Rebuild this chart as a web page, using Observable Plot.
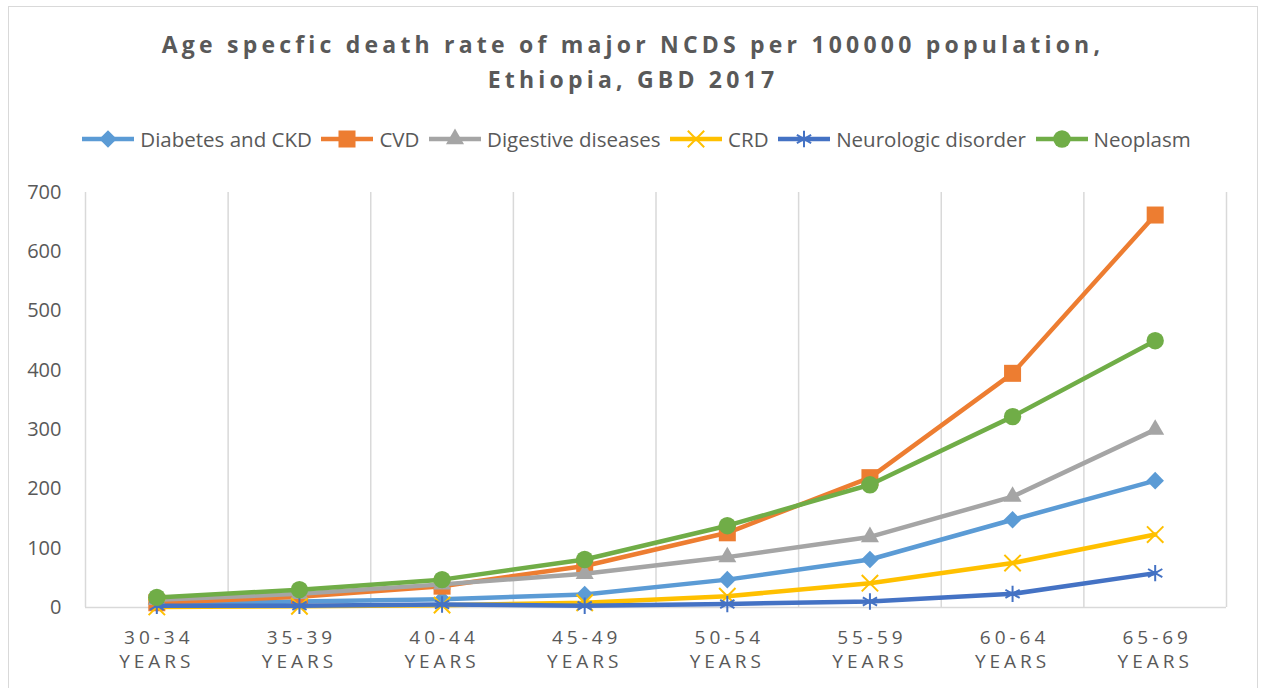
<!DOCTYPE html>
<html>
<head>
<meta charset="utf-8">
<script src="https://cdn.jsdelivr.net/npm/d3@7"></script>
<script src="https://cdn.jsdelivr.net/npm/@observablehq/plot@0.6"></script>
<style>
html, body { margin: 0; padding: 0; background: #fff; }
#wrap { position: relative; width: 1262px; height: 688px; overflow: hidden; font-family: "Open Sans", sans-serif; color: #595959; background: #fff; }
#frame { position: absolute; left: 8px; top: 6px; width: 1250px; height: 720px; border: 1.5px solid #d9d9d9; box-sizing: border-box; }
.tline { position: absolute; left: 2px; width: 1262px; text-align: center; font-weight: 700; font-size: 23px; line-height: 35px; letter-spacing: 4.2px; white-space: nowrap; }
#legend { position: absolute; left: 0; top: 127px; width: 1273px; height: 24px; display: flex; justify-content: center; align-items: center; font-size: 20.5px; white-space: nowrap; }
.item { display: flex; align-items: center; margin: 0 4.8px; }
.item svg { margin-right: 6px; }
#chart { position: absolute; left: 0; top: 165px; }
</style>
</head>
<body>
<div id="wrap">
  <div id="frame"></div>
  <div class="tline" style="top:27px">Age specfic death rate of major NCDS per 100000 population,</div>
  <div class="tline" style="top:62px">Ethiopia, GBD 2017</div>
  <div id="legend"></div>
  <div id="chart"></div>
</div>
<script>
// ---- Data ----
const ageGroups = ["30-34", "35-39", "40-44", "45-49", "50-54", "55-59", "60-64", "65-69"];
const ageUnit = "YEARS";
const seriesNames = ["Diabetes and CKD", "CVD", "Digestive diseases", "CRD", "Neurologic disorder", "Neoplasm"];
const diabetesCKD = [7, 10, 14, 22, 47, 81, 148, 214];
const cvd = [8, 18, 36, 70, 126, 219, 395, 662];
const digestive = [13, 23, 39, 57, 85, 119, 187, 300];
const crd = [1, 2, 4, 8, 19, 41, 75, 123];
const neurologic = [3, 3, 5, 3, 6, 10, 23, 58];
const neoplasm = [17, 30, 47, 81, 138, 207, 322, 450];
const yTicks = [0, 100, 200, 300, 400, 500, 600, 700];

// ---- Styling ----
const seriesValues = [diabetesCKD, cvd, digestive, crd, neurologic, neoplasm];
const colors = ["#5B9BD5", "#ED7D31", "#A5A5A5", "#FFC000", "#4472C4", "#70AD47"];
const symbols = ["diamond2", "square", "triangle", "times", "asterisk", "circle"];
const d3symbols = [d3.symbolDiamond2, d3.symbolSquare, d3.symbolTriangle, d3.symbolTimes, d3.symbolAsterisk, d3.symbolCircle];
const radii = [7.9, 9.6, 6.7, 7.5, 7.8, 8.7];
const filled = [true, true, true, false, false, true];

const series = seriesNames.map((name, k) => ({
  name, values: seriesValues[k], color: colors[k], symbol: symbols[k], r: radii[k], filled: filled[k]
}));

// ---- Legend ----
const legend = d3.select("#legend");
series.forEach((s, k) => {
  const item = legend.append("div").attr("class", "item");
  const svg = item.append("svg").attr("width", 52).attr("height", 22);
  svg.append("line").attr("x1", 0).attr("x2", 52).attr("y1", 11).attr("y2", 11)
    .attr("stroke", s.color).attr("stroke-width", 4.5);
  svg.append("path")
    .attr("transform", "translate(26,11)")
    .attr("d", d3.symbol(d3symbols[k], Math.PI * s.r * s.r)())
    .attr("fill", s.filled ? s.color : "none")
    .attr("stroke", s.filled ? "none" : s.color)
    .attr("stroke-width", s.filled ? 0 : 2);
  item.append("span").text(s.name);
});

// ---- Chart ----
const idx = ageGroups.map((d, i) => i);
const gridPositions = [...idx.map(i => i - 0.5), ageGroups.length - 0.5];

const marks = [
  Plot.ruleX(gridPositions, {x: d => d, stroke: "#d9d9d9", strokeWidth: 1.5}),
  Plot.ruleY([0], {stroke: "#d9d9d9", strokeWidth: 1.5}),
  Plot.axisY({ticks: yTicks, tickSize: 0, tickPadding: 24, fontSize: 20, label: null, fill: "#595959"}),
  Plot.axisX({ticks: idx, tickFormat: i => `${ageGroups[i]}\n${ageUnit}`, tickSize: 0, tickPadding: 19,
    fontSize: 19, lineHeight: 1.28, label: null, fill: "#595959"})
];
series.forEach(s => {
  marks.push(Plot.line(s.values, {x: (d, i) => i, y: d => d, stroke: s.color, strokeWidth: 4.5}));
  marks.push(Plot.dot(s.values, {
    x: (d, i) => i, y: d => d, symbol: () => s.symbol, r: s.r,
    fill: s.filled ? s.color : "none", stroke: s.filled ? "none" : s.color, strokeWidth: 2
  }));
});

const chart = Plot.plot({
  width: 1262,
  height: 523,
  marginTop: 27,
  marginBottom: 81,
  marginLeft: 85,
  marginRight: 36,
  x: {domain: [-0.5, ageGroups.length - 0.5]},
  y: {domain: [0, 700]},
  symbol: {type: "identity"},
  style: {fontFamily: "Open Sans, sans-serif", color: "#595959", background: "transparent", overflow: "visible"},
  marks
});
d3.select(chart).selectAll('g[aria-label="x-axis tick label"] text').attr("letter-spacing", "4px").attr("dx", 2);
document.getElementById("chart").appendChild(chart);
</script>
</body>
</html>
